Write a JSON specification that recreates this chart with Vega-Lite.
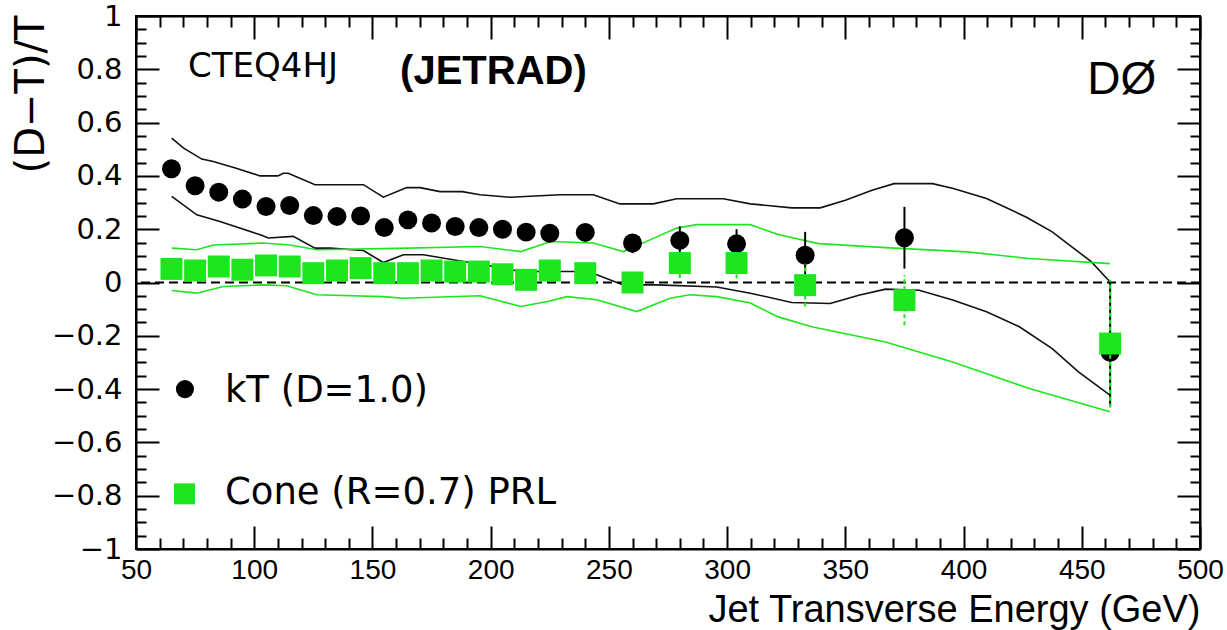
{
  "$schema": "https://vega.github.io/schema/vega-lite/v6.json",
  "width": 1064,
  "height": 533,
  "autosize": {"type": "none"},
  "padding": {"left": 136, "top": 16, "right": 27, "bottom": 81},
  "background": "white",
  "config": {"view": {"stroke": "black", "strokeWidth": 2}, "axis": {"grid": false}},
  "resolve": {"axis": {"x": "independent", "y": "independent"}},
  "datasets": {
    "points": [
      {"series": "kT", "et": 65, "r": 0.427},
      {"series": "kT", "et": 75, "r": 0.363},
      {"series": "kT", "et": 85, "r": 0.339},
      {"series": "kT", "et": 95, "r": 0.313},
      {"series": "kT", "et": 105, "r": 0.285},
      {"series": "kT", "et": 115, "r": 0.289},
      {"series": "kT", "et": 125, "r": 0.251},
      {"series": "kT", "et": 135, "r": 0.248},
      {"series": "kT", "et": 145, "r": 0.25},
      {"series": "kT", "et": 155, "r": 0.206},
      {"series": "kT", "et": 165, "r": 0.235},
      {"series": "kT", "et": 175, "r": 0.223},
      {"series": "kT", "et": 185, "r": 0.21},
      {"series": "kT", "et": 195, "r": 0.206},
      {"series": "kT", "et": 205, "r": 0.2},
      {"series": "kT", "et": 215, "r": 0.189},
      {"series": "kT", "et": 225, "r": 0.185},
      {"series": "kT", "et": 240, "r": 0.188},
      {"series": "kT", "et": 260, "r": 0.148, "lo": 0.11, "hi": 0.18},
      {"series": "kT", "et": 280, "r": 0.158, "lo": 0.105, "hi": 0.211},
      {"series": "kT", "et": 304, "r": 0.145, "lo": 0.09, "hi": 0.2},
      {"series": "kT", "et": 333, "r": 0.102, "lo": 0.015, "hi": 0.19},
      {"series": "kT", "et": 375, "r": 0.168, "lo": 0.052, "hi": 0.284},
      {"series": "kT", "et": 462, "r": -0.262, "lo": -0.465, "hi": 0.0},
      {"series": "Cone", "et": 65, "r": 0.051},
      {"series": "Cone", "et": 75, "r": 0.045},
      {"series": "Cone", "et": 85, "r": 0.06},
      {"series": "Cone", "et": 95, "r": 0.048},
      {"series": "Cone", "et": 105, "r": 0.064},
      {"series": "Cone", "et": 115, "r": 0.06},
      {"series": "Cone", "et": 125, "r": 0.035},
      {"series": "Cone", "et": 135, "r": 0.045},
      {"series": "Cone", "et": 145, "r": 0.054},
      {"series": "Cone", "et": 155, "r": 0.035},
      {"series": "Cone", "et": 165, "r": 0.035},
      {"series": "Cone", "et": 175, "r": 0.045},
      {"series": "Cone", "et": 185, "r": 0.041},
      {"series": "Cone", "et": 195, "r": 0.041},
      {"series": "Cone", "et": 205, "r": 0.031},
      {"series": "Cone", "et": 215, "r": 0.01},
      {"series": "Cone", "et": 225, "r": 0.045},
      {"series": "Cone", "et": 240, "r": 0.035},
      {"series": "Cone", "et": 260, "r": 0.0},
      {"series": "Cone", "et": 280, "r": 0.073, "lo": 0.017, "hi": 0.116},
      {"series": "Cone", "et": 304, "r": 0.073, "lo": 0.015, "hi": 0.116},
      {"series": "Cone", "et": 333, "r": -0.01, "lo": -0.09, "hi": 0.07},
      {"series": "Cone", "et": 375, "r": -0.066, "lo": -0.16, "hi": 0.028},
      {"series": "Cone", "et": 462, "r": -0.229, "lo": -0.47, "hi": 0.01}
    ],
    "curves": [
      {"curve": "kT_hi", "et": 65.1, "r": 0.542}, {"curve": "kT_hi", "et": 70, "r": 0.505}, {"curve": "kT_hi", "et": 77.8, "r": 0.463}, {"curve": "kT_hi", "et": 82.7, "r": 0.454}, {"curve": "kT_hi", "et": 92, "r": 0.43}, {"curve": "kT_hi", "et": 102.5, "r": 0.4}, {"curve": "kT_hi", "et": 110, "r": 0.4}, {"curve": "kT_hi", "et": 112.3, "r": 0.41}, {"curve": "kT_hi", "et": 114.4, "r": 0.41}, {"curve": "kT_hi", "et": 125.7, "r": 0.367}, {"curve": "kT_hi", "et": 146.2, "r": 0.367}, {"curve": "kT_hi", "et": 154.6, "r": 0.32}, {"curve": "kT_hi", "et": 164.5, "r": 0.356}, {"curve": "kT_hi", "et": 170.1, "r": 0.356}, {"curve": "kT_hi", "et": 178.6, "r": 0.341}, {"curve": "kT_hi", "et": 188, "r": 0.341}, {"curve": "kT_hi", "et": 195.5, "r": 0.329}, {"curve": "kT_hi", "et": 208.2, "r": 0.32}, {"curve": "kT_hi", "et": 229.4, "r": 0.329}, {"curve": "kT_hi", "et": 243.4, "r": 0.329}, {"curve": "kT_hi", "et": 254.7, "r": 0.295}, {"curve": "kT_hi", "et": 268.8, "r": 0.295}, {"curve": "kT_hi", "et": 278.7, "r": 0.314}, {"curve": "kT_hi", "et": 298.4, "r": 0.314}, {"curve": "kT_hi", "et": 309.8, "r": 0.295}, {"curve": "kT_hi", "et": 318.2, "r": 0.288}, {"curve": "kT_hi", "et": 327.3, "r": 0.28}, {"curve": "kT_hi", "et": 339.4, "r": 0.28}, {"curve": "kT_hi", "et": 350, "r": 0.309}, {"curve": "kT_hi", "et": 361.3, "r": 0.346}, {"curve": "kT_hi", "et": 370.6, "r": 0.371}, {"curve": "kT_hi", "et": 386.9, "r": 0.371}, {"curve": "kT_hi", "et": 395.7, "r": 0.353}, {"curve": "kT_hi", "et": 409.7, "r": 0.315}, {"curve": "kT_hi", "et": 426.4, "r": 0.246}, {"curve": "kT_hi", "et": 437.5, "r": 0.19}, {"curve": "kT_hi", "et": 445.8, "r": 0.134}, {"curve": "kT_hi", "et": 454, "r": 0.078}, {"curve": "kT_hi", "et": 461.9, "r": 0.003},
      {"curve": "kT_lo", "et": 65.1, "r": 0.323}, {"curve": "kT_lo", "et": 75.7, "r": 0.254}, {"curve": "kT_lo", "et": 85.5, "r": 0.229}, {"curve": "kT_lo", "et": 102.5, "r": 0.179}, {"curve": "kT_lo", "et": 106, "r": 0.167}, {"curve": "kT_lo", "et": 116.5, "r": 0.173}, {"curve": "kT_lo", "et": 125.7, "r": 0.129}, {"curve": "kT_lo", "et": 132.1, "r": 0.129}, {"curve": "kT_lo", "et": 146.2, "r": 0.12}, {"curve": "kT_lo", "et": 154.6, "r": 0.075}, {"curve": "kT_lo", "et": 163.1, "r": 0.104}, {"curve": "kT_lo", "et": 171.5, "r": 0.104}, {"curve": "kT_lo", "et": 188.5, "r": 0.079}, {"curve": "kT_lo", "et": 192.9, "r": 0.073}, {"curve": "kT_lo", "et": 212.7, "r": 0.041}, {"curve": "kT_lo", "et": 235.2, "r": 0.041}, {"curve": "kT_lo", "et": 244.9, "r": 0.029}, {"curve": "kT_lo", "et": 256.1, "r": -0.009}, {"curve": "kT_lo", "et": 270.3, "r": -0.009}, {"curve": "kT_lo", "et": 295.6, "r": -0.017}, {"curve": "kT_lo", "et": 309.8, "r": -0.04}, {"curve": "kT_lo", "et": 327.3, "r": -0.075}, {"curve": "kT_lo", "et": 343.6, "r": -0.079}, {"curve": "kT_lo", "et": 355.7, "r": -0.048}, {"curve": "kT_lo", "et": 367, "r": -0.025}, {"curve": "kT_lo", "et": 381.2, "r": -0.029}, {"curve": "kT_lo", "et": 395.4, "r": -0.066}, {"curve": "kT_lo", "et": 409.7, "r": -0.11}, {"curve": "kT_lo", "et": 423.6, "r": -0.166}, {"curve": "kT_lo", "et": 437.5, "r": -0.248}, {"curve": "kT_lo", "et": 448.6, "r": -0.335}, {"curve": "kT_lo", "et": 461.9, "r": -0.423},
      {"curve": "cone_hi", "et": 65.1, "r": 0.129}, {"curve": "cone_hi", "et": 75.7, "r": 0.123}, {"curve": "cone_hi", "et": 82.7, "r": 0.141}, {"curve": "cone_hi", "et": 103.8, "r": 0.148}, {"curve": "cone_hi", "et": 115.1, "r": 0.141}, {"curve": "cone_hi", "et": 126.4, "r": 0.123}, {"curve": "cone_hi", "et": 160, "r": 0.128}, {"curve": "cone_hi", "et": 195.5, "r": 0.135}, {"curve": "cone_hi", "et": 212.7, "r": 0.116}, {"curve": "cone_hi", "et": 225.4, "r": 0.154}, {"curve": "cone_hi", "et": 243.4, "r": 0.148}, {"curve": "cone_hi", "et": 256.1, "r": 0.116}, {"curve": "cone_hi", "et": 267.4, "r": 0.16}, {"curve": "cone_hi", "et": 278.7, "r": 0.204}, {"curve": "cone_hi", "et": 287.2, "r": 0.217}, {"curve": "cone_hi", "et": 309.8, "r": 0.217}, {"curve": "cone_hi", "et": 321.6, "r": 0.18}, {"curve": "cone_hi", "et": 338.7, "r": 0.146}, {"curve": "cone_hi", "et": 367, "r": 0.131}, {"curve": "cone_hi", "et": 401.4, "r": 0.115}, {"curve": "cone_hi", "et": 427.8, "r": 0.09}, {"curve": "cone_hi", "et": 461.9, "r": 0.071},
      {"curve": "cone_lo", "et": 65.1, "r": -0.03}, {"curve": "cone_lo", "et": 75.7, "r": -0.04}, {"curve": "cone_lo", "et": 86.9, "r": -0.015}, {"curve": "cone_lo", "et": 103.8, "r": -0.009}, {"curve": "cone_lo", "et": 113.7, "r": -0.012}, {"curve": "cone_lo", "et": 126.4, "r": -0.046}, {"curve": "cone_lo", "et": 154.6, "r": -0.053}, {"curve": "cone_lo", "et": 163.1, "r": -0.059}, {"curve": "cone_lo", "et": 195.5, "r": -0.05}, {"curve": "cone_lo", "et": 212.7, "r": -0.09}, {"curve": "cone_lo", "et": 224, "r": -0.071}, {"curve": "cone_lo", "et": 232.3, "r": -0.053}, {"curve": "cone_lo", "et": 244.9, "r": -0.065}, {"curve": "cone_lo", "et": 261.8, "r": -0.109}, {"curve": "cone_lo", "et": 275.9, "r": -0.059}, {"curve": "cone_lo", "et": 284.3, "r": -0.046}, {"curve": "cone_lo", "et": 295.6, "r": -0.053}, {"curve": "cone_lo", "et": 309.8, "r": -0.077}, {"curve": "cone_lo", "et": 321.6, "r": -0.129}, {"curve": "cone_lo", "et": 335.8, "r": -0.166}, {"curve": "cone_lo", "et": 367, "r": -0.223}, {"curve": "cone_lo", "et": 395.4, "r": -0.298}, {"curve": "cone_lo", "et": 427.8, "r": -0.398}, {"curve": "cone_lo", "et": 461.9, "r": -0.485}
    ],
    "notes": [
      {"key": "cteq", "text": "CTEQ4HJ", "et": 72, "r": 0.81},
      {"key": "jetrad", "text": "(JETRAD)", "et": 161.7, "r": 0.789},
      {"key": "d0", "text": "DØ", "et": 452.3, "r": 0.759},
      {"key": "legkt", "text": "kT (D=1.0)", "et": 87.6, "r": -0.409},
      {"key": "legcone", "text": "Cone (R=0.7) PRL", "et": 87.6, "r": -0.789}
    ],
    "legsym": [
      {"series": "kT", "et": 70.7, "r": -0.4},
      {"series": "Cone", "et": 70.5, "r": -0.793}
    ]
  },
  "layer": [
    {
      "data": {"name": "curves"},
      "mark": {"type": "line", "strokeWidth": 1.6},
      "encoding": {
        "x": {"field": "et", "type": "quantitative", "scale": {"domain": [50, 500], "nice": false, "zero": false},
          "axis": {"orient": "bottom", "values": [50, 100, 150, 200, 250, 300, 350, 400, 450, 500], "ticks": false, "domain": false,
            "labelFont": "Liberation Sans", "labelFontSize": 28, "labelColor": "black", "labelPadding": 7, "labelFlush": false, "labelOverlap": false,
            "title": "Jet Transverse Energy (GeV)", "titleFont": "Liberation Sans", "titleFontSize": 38, "titleFontWeight": "normal", "titleColor": "black",
            "titleX": 1064, "titleY": 61, "titleAlign": "right", "titleBaseline": "middle"}},
        "y": {"field": "r", "type": "quantitative", "scale": {"domain": [-1, 1], "nice": false, "zero": false},
          "axis": {"orient": "left", "values": [-1, -0.8, -0.6, -0.4, -0.2, 0, 0.2, 0.4, 0.6, 0.8, 1], "ticks": false, "domain": false, "format": "~g",
            "labelFont": "DejaVu Sans", "labelFontSize": 29, "labelColor": "black", "labelPadding": 14, "labelFlush": false, "labelOverlap": false,
            "title": "(D−T)/T", "titleFont": "DejaVu Sans", "titleFontSize": 40, "titleFontWeight": "normal", "titleColor": "black",
            "titleAngle": -90, "titleX": -105, "titleY": -1, "titleAlign": "right", "titleBaseline": "middle"}},
        "color": {"field": "curve", "type": "nominal", "scale": {"domain": ["kT_hi", "kT_lo", "cone_hi", "cone_lo"], "range": ["#111111", "#111111", "#1ee61e", "#1ee61e"]}, "legend": null}
      }
    },
    {
      "data": {"values": [{"z": 0}]},
      "mark": {"type": "rule", "color": "black", "strokeWidth": 2, "strokeDash": [9, 5]},
      "encoding": {
        "y": {"field": "z", "type": "quantitative",
          "axis": {"orient": "left", "values": [-1, -0.95, -0.9, -0.85, -0.8, -0.75, -0.7, -0.65, -0.6, -0.55, -0.5, -0.45, -0.4, -0.35, -0.3, -0.25, -0.2, -0.15, -0.1, -0.05, 0, 0.05, 0.1, 0.15, 0.2, 0.25, 0.3, 0.35, 0.4, 0.45, 0.5, 0.55, 0.6, 0.65, 0.7, 0.75, 0.8, 0.85, 0.9, 0.95, 1],
            "labels": false, "title": null, "domain": true, "domainColor": "black", "domainWidth": 2, "tickColor": "black", "tickWidth": 2,
            "tickSize": {"condition": {"test": "abs(datum.value*5 - round(datum.value*5)) < 0.001", "value": -23}, "value": -10}}}
      }
    },
    {
      "data": {"name": "points"},
      "transform": [{"filter": "datum.series === 'kT' && isValid(datum.lo)"}],
      "mark": {"type": "rule", "color": "black", "strokeWidth": 2},
      "encoding": {
        "x": {"field": "et", "type": "quantitative",
          "axis": {"orient": "bottom", "values": [50, 60, 70, 80, 90, 100, 110, 120, 130, 140, 150, 160, 170, 180, 190, 200, 210, 220, 230, 240, 250, 260, 270, 280, 290, 300, 310, 320, 330, 340, 350, 360, 370, 380, 390, 400, 410, 420, 430, 440, 450, 460, 470, 480, 490, 500],
            "labels": false, "title": null, "domain": true, "domainColor": "black", "domainWidth": 2, "tickColor": "black", "tickWidth": 2,
            "tickSize": {"condition": {"test": "datum.value % 50 === 0", "value": -23}, "value": -11}}},
        "y": {"field": "lo", "type": "quantitative",
          "axis": {"orient": "right", "values": [-1, -0.95, -0.9, -0.85, -0.8, -0.75, -0.7, -0.65, -0.6, -0.55, -0.5, -0.45, -0.4, -0.35, -0.3, -0.25, -0.2, -0.15, -0.1, -0.05, 0, 0.05, 0.1, 0.15, 0.2, 0.25, 0.3, 0.35, 0.4, 0.45, 0.5, 0.55, 0.6, 0.65, 0.7, 0.75, 0.8, 0.85, 0.9, 0.95, 1],
            "labels": false, "title": null, "domain": true, "domainColor": "black", "domainWidth": 2, "tickColor": "black", "tickWidth": 2,
            "tickSize": {"condition": {"test": "abs(datum.value*5 - round(datum.value*5)) < 0.001", "value": -23}, "value": -10}}},
        "y2": {"field": "hi"}
      }
    },
    {
      "data": {"name": "points"},
      "transform": [{"filter": "datum.series === 'kT'"}],
      "mark": {"type": "point", "shape": "circle", "filled": true, "color": "black", "size": 360, "opacity": 1},
      "encoding": {
        "x": {"field": "et", "type": "quantitative",
          "axis": {"orient": "top", "values": [50, 60, 70, 80, 90, 100, 110, 120, 130, 140, 150, 160, 170, 180, 190, 200, 210, 220, 230, 240, 250, 260, 270, 280, 290, 300, 310, 320, 330, 340, 350, 360, 370, 380, 390, 400, 410, 420, 430, 440, 450, 460, 470, 480, 490, 500],
            "labels": false, "title": null, "domain": true, "domainColor": "black", "domainWidth": 2, "tickColor": "black", "tickWidth": 2,
            "tickSize": {"condition": {"test": "datum.value % 50 === 0", "value": -23}, "value": -11}}},
        "y": {"field": "r", "type": "quantitative", "axis": null}
      }
    },
    {
      "data": {"name": "points"},
      "transform": [{"filter": "datum.series === 'Cone' && isValid(datum.lo)"}],
      "mark": {"type": "rule", "color": "#1ee61e", "strokeWidth": 2, "strokeDash": [4, 3]},
      "encoding": {
        "x": {"field": "et", "type": "quantitative", "axis": null},
        "y": {"field": "lo", "type": "quantitative", "axis": null},
        "y2": {"field": "hi"}
      }
    },
    {
      "data": {"name": "points"},
      "transform": [{"filter": "datum.series === 'Cone'"}],
      "mark": {"type": "point", "shape": "square", "filled": true, "color": "#1ee61e", "size": 484, "opacity": 1},
      "encoding": {
        "x": {"field": "et", "type": "quantitative", "axis": null},
        "y": {"field": "r", "type": "quantitative", "axis": null}
      }
    },
    {
      "data": {"name": "legsym"},
      "transform": [{"filter": "datum.series === 'kT'"}],
      "mark": {"type": "point", "shape": "circle", "filled": true, "color": "black", "size": 330, "opacity": 1},
      "encoding": {
        "x": {"field": "et", "type": "quantitative", "axis": null},
        "y": {"field": "r", "type": "quantitative", "axis": null}
      }
    },
    {
      "data": {"name": "legsym"},
      "transform": [{"filter": "datum.series === 'Cone'"}],
      "mark": {"type": "point", "shape": "square", "filled": true, "color": "#1ee61e", "size": 440, "opacity": 1},
      "encoding": {
        "x": {"field": "et", "type": "quantitative", "axis": null},
        "y": {"field": "r", "type": "quantitative", "axis": null}
      }
    },
    {
      "data": {"name": "notes"},
      "transform": [{"filter": "datum.key === 'legkt' || datum.key === 'legcone'"}],
      "mark": {"type": "text", "font": "DejaVu Sans", "fontSize": 37, "align": "left", "baseline": "middle", "color": "black"},
      "encoding": {
        "x": {"field": "et", "type": "quantitative", "axis": null},
        "y": {"field": "r", "type": "quantitative", "axis": null},
        "text": {"field": "text"}
      }
    },
    {
      "data": {"name": "notes"},
      "transform": [{"filter": "datum.key === 'cteq'"}],
      "mark": {"type": "text", "font": "DejaVu Sans", "fontSize": 34, "align": "left", "baseline": "middle", "color": "black"},
      "encoding": {
        "x": {"field": "et", "type": "quantitative", "axis": null},
        "y": {"field": "r", "type": "quantitative", "axis": null},
        "text": {"field": "text"}
      }
    },
    {
      "data": {"name": "notes"},
      "transform": [{"filter": "datum.key === 'jetrad'"}],
      "mark": {"type": "text", "font": "Liberation Sans", "fontSize": 40, "fontWeight": "bold", "align": "left", "baseline": "middle", "color": "black"},
      "encoding": {
        "x": {"field": "et", "type": "quantitative", "axis": null},
        "y": {"field": "r", "type": "quantitative", "axis": null},
        "text": {"field": "text"}
      }
    },
    {
      "data": {"name": "notes"},
      "transform": [{"filter": "datum.key === 'd0'"}],
      "mark": {"type": "text", "font": "Liberation Sans", "fontSize": 46, "align": "left", "baseline": "middle", "color": "black"},
      "encoding": {
        "x": {"field": "et", "type": "quantitative", "axis": null},
        "y": {"field": "r", "type": "quantitative", "axis": null},
        "text": {"field": "text"}
      }
    }
  ]
}
